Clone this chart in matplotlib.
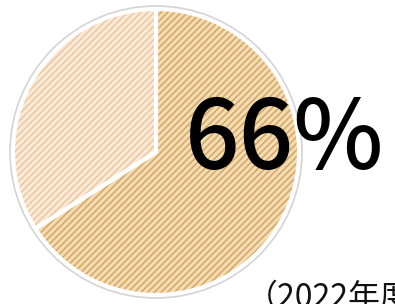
import matplotlib.pyplot as plt
from matplotlib.patches import Circle

plt.rcParams['font.family'] = ['Noto Sans CJK JP', 'DejaVu Sans']
plt.rcParams['hatch.linewidth'] = 1.1

shares = [66, 34]
face_colors = ['#f2dcb6', '#f9ead8']
hatch_colors = ['#d8a55e', '#ecc79f']
big_label = '66%'
note = '（2022年度）'

fig = plt.figure(figsize=(3.95, 3.04), dpi=100)
ax = fig.add_axes([0, 0, 1, 1])

cx, cy, r = 156, 152, 143

# hatched wedges (y axis is flipped, so start at -90 and go "counterclock" = visually clockwise)
wedges, _ = ax.pie(shares, center=(cx, cy), radius=r, startangle=-90,
                   counterclock=True, colors=face_colors, frame=True)
for w, hc in zip(wedges, hatch_colors):
    w.set_edgecolor(hc)
    w.set_hatch('/' * 5)
    w.set_linewidth(0)

# white separators on top
ax.pie(shares, center=(cx, cy), radius=r, startangle=-90,
       counterclock=True, colors=['none', 'none'], frame=True,
       wedgeprops=dict(edgecolor='white', linewidth=3))

# thin grey outer ring
ax.add_patch(Circle((cx, cy), r + 3, facecolor='none', edgecolor='#d4d4d4', lw=1.2))

ax.set_xlim(0, 395)
ax.set_ylim(304, 0)
ax.set_aspect('equal')
ax.axis('off')

ax.text(285, 141, big_label, fontsize=69, fontweight='medium', ha='center', va='center', color='black')
ax.text(246, 307, note, fontsize=23, ha='left', va='baseline', color='#111111')

fig.savefig('out.png', dpi=100)
